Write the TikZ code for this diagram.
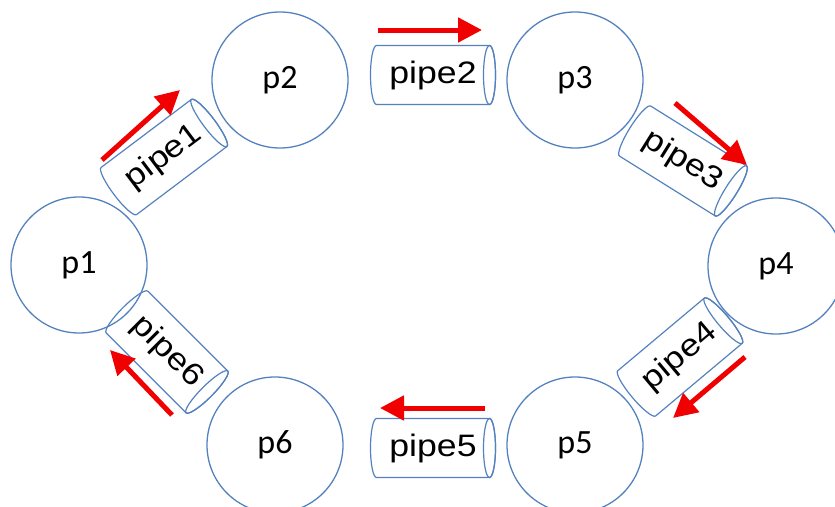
\documentclass[tikz,border=0pt]{standalone}
\usepackage{fontspec}
\setmainfont{Liberation Sans}
\newfontfamily\calfont{Carlito}
\usetikzlibrary{arrows.meta}
\definecolor{cblue}{RGB}{84,130,190}
\definecolor{ared}{RGB}{240,0,0}
\tikzset{
  pcircle/.style={circle, draw=cblue, line width=1.3pt, minimum size=136pt, inner sep=0pt,
    font=\calfont\fontsize{34}{36}\selectfont},
  pipeline/.style={draw=cblue, line width=1.2pt},
  pipelabel/.style={inner sep=0pt, font=\fontsize{31}{33}\selectfont},
  flow/.style={draw=ared, line width=5pt, -{Triangle[length=24pt,width=24pt]}},
}
\newcommand{\drawpipe}[4]{%
  \begin{scope}[shift={(#2)}, rotate=#3]
    \draw[pipeline] (-56.5,29.5) arc[start angle=90,end angle=270,x radius=6,y radius=29.5]
      -- (56.5,-29.5) arc[start angle=-90,end angle=90,x radius=6,y radius=29.5] -- cycle;
    \draw[pipeline] (56.5,0) ellipse[x radius=6,y radius=29.5];
  \end{scope}
  \node[pipelabel, rotate=#3] (#1) at (#2) {\scalebox{1.15}[1]{#4}};}
\begin{document}
\begin{tikzpicture}[x=1pt,y=-1pt]
\useasboundingbox (0,0) rectangle (835,506);
\node[pcircle] (p1) at (79,265) {p1};
\node[pcircle] (p2) at (280,80) {p2};
\node[pcircle] (p3) at (575,80) {p3};
\node[pcircle] (p4) at (776,266) {p4};
\node[pcircle] (p5) at (575,445) {p5};
\node[pcircle] (p6) at (275,445) {p6};
\drawpipe{pipe1}{164,157}{37}{pipe1}
\drawpipe{pipe2}{433,75}{0}{pipe2}
\drawpipe{pipe3}{683,161}{-32}{pipe3}
\drawpipe{pipe4}{680,357}{40}{pipe4}
\drawpipe{pipe5}{433,448}{0}{pipe5}
\drawpipe{pipe6}{167,352}{-45}{pipe6}
\draw[flow] (102,160) -- (180,90);
\draw[flow] (378,30) -- (482,30);
\draw[flow] (675,103) -- (747,165);
\draw[flow] (745,357) -- (673,418);
\draw[flow] (485,408) -- (380,408);
\draw[flow] (172,415) -- (110,350);
\end{tikzpicture}
\end{document}
